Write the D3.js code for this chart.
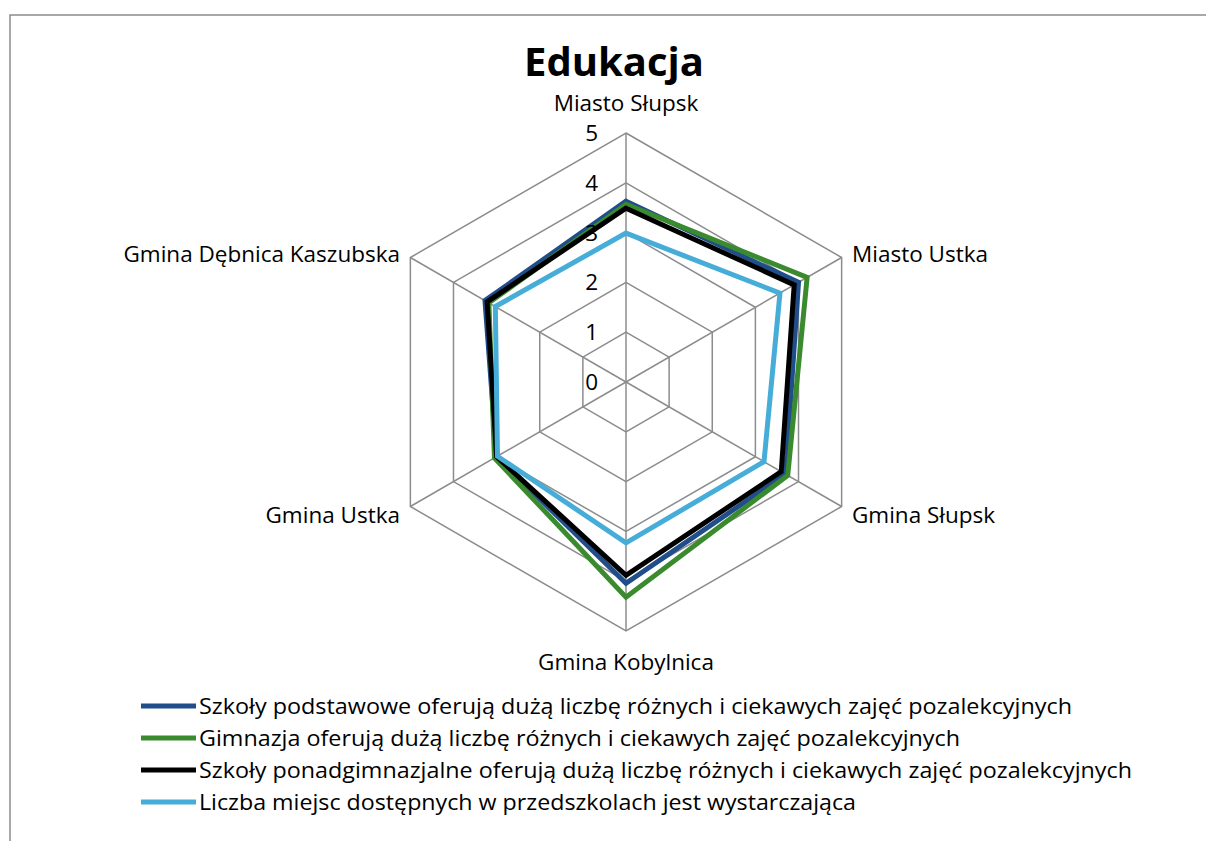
<!DOCTYPE html>
<html lang="pl">
<head>
<meta charset="UTF-8">
<title>Edukacja</title>
<script src="https://d3js.org/d3.v7.min.js"></script>
<style>
  body { margin: 0; background: #fff; }
  svg { display: block; font-family: "Open Sans", "Noto Sans", sans-serif; }
</style>
</head>
<body>
<svg id="chart" width="1206" height="841"></svg>
<script>
const categories = ["Miasto Słupsk", "Miasto Ustka", "Gmina Słupsk", "Gmina Kobylnica", "Gmina Ustka", "Gmina Dębnica Kaszubska"];
const seriesNames = [
  "Szkoły podstawowe oferują dużą liczbę różnych i ciekawych zajęć pozalekcyjnych",
  "Gimnazja oferują dużą liczbę różnych i ciekawych zajęć pozalekcyjnych",
  "Szkoły ponadgimnazjalne oferują dużą liczbę różnych i ciekawych zajęć pozalekcyjnych",
  "Liczba miejsc dostępnych w przedszkolach jest wystarczająca"
];
const podstawowe = [3.63, 4.0, 3.7, 4.04, 3.0, 3.27];
const gimnazja = [3.57, 4.2, 3.75, 4.32, 3.05, 3.18];
const ponadgimn = [3.49, 3.9, 3.6, 3.88, 3.0, 3.22];
const przedszkola = [2.99, 3.57, 3.2, 3.23, 2.98, 3.03];
const ticks = [0, 1, 2, 3, 4, 5];
const colors = ["#1f4e8a", "#3a8a2e", "#000000", "#46add8"];

const seriesValues = [podstawowe, gimnazja, ponadgimn, przedszkola];

const svg = d3.select("#chart");
const cx = 626, cy = 382, R = 249;
const fs = 22.5;

// frame
svg.append("path")
  .attr("d", "M10,841 L10,15 L1206,15")
  .attr("fill", "none").attr("stroke", "#8c8c8c").attr("stroke-width", 1.5);

svg.append("text")
  .attr("x", 614).attr("y", 76)
  .attr("text-anchor", "middle")
  .attr("font-size", 40).attr("font-weight", "bold")
  .text("Edukacja");

const r = d3.scaleLinear().domain([0, 5]).range([0, R]);
const angle = d3.scaleBand().domain(categories).range([0, 2 * Math.PI]).align(0).paddingInner(0);
const pt = (cat, v) => {
  const a = angle(cat);
  return [cx + r(v) * Math.sin(a), cy - r(v) * Math.cos(a)];
};

const g = svg.append("g");

// grid hexagons
g.selectAll("polygon.grid")
  .data(ticks.slice(1))
  .enter().append("polygon")
  .attr("points", t => categories.map(c => pt(c, t).join(",")).join(" "))
  .attr("fill", "none").attr("stroke", "#8c8c8c").attr("stroke-width", 1.5);

// spokes
g.selectAll("line.spoke")
  .data(categories)
  .enter().append("line")
  .attr("x1", cx).attr("y1", cy)
  .attr("x2", c => pt(c, 5)[0]).attr("y2", c => pt(c, 5)[1])
  .attr("stroke", "#8c8c8c").attr("stroke-width", 1.5);

// series
const line = d3.lineRadial()
  .angle((d, i) => angle(categories[i]))
  .radius(d => r(d))
  .curve(d3.curveLinearClosed);

g.selectAll("path.series")
  .data(seriesValues)
  .enter().append("path")
  .attr("transform", `translate(${cx},${cy})`)
  .attr("d", d => line(d))
  .attr("fill", "none")
  .attr("stroke", (d, i) => colors[i])
  .attr("stroke-width", 5)
  .attr("stroke-linejoin", "miter");

// tick labels
g.selectAll("text.tick")
  .data(ticks)
  .enter().append("text")
  .attr("x", cx - 28)
  .attr("y", t => cy - r(t) + 8)
  .attr("text-anchor", "end")
  .attr("font-size", fs)
  .text(t => t);

// category labels
const labelPos = [
  { x: cx, y: 111, anchor: "middle" },
  { x: 852, y: 262, anchor: "start" },
  { x: 852, y: 523, anchor: "start" },
  { x: cx, y: 670, anchor: "middle" },
  { x: 400, y: 523, anchor: "end" },
  { x: 400, y: 262, anchor: "end" }
];
g.selectAll("text.cat")
  .data(categories)
  .enter().append("text")
  .attr("x", (d, i) => labelPos[i].x)
  .attr("y", (d, i) => labelPos[i].y)
  .attr("text-anchor", (d, i) => labelPos[i].anchor)
  .attr("font-size", fs)
  .text(d => d);

// legend
const legend = svg.selectAll("g.legend")
  .data(seriesNames)
  .enter().append("g")
  .attr("transform", (d, i) => `translate(141,${706 + i * 32})`);
legend.append("line")
  .attr("x1", 0).attr("x2", 55).attr("y1", 0).attr("y2", 0)
  .attr("stroke", (d, i) => colors[i]).attr("stroke-width", 5);
legend.append("text")
  .attr("x", 58).attr("y", 8)
  .attr("font-size", fs)
  .attr("textLength", (d, i) => [873, 761, 933, 657][i])
  .attr("lengthAdjust", "spacingAndGlyphs")
  .text(d => d);
</script>
</body>
</html>
